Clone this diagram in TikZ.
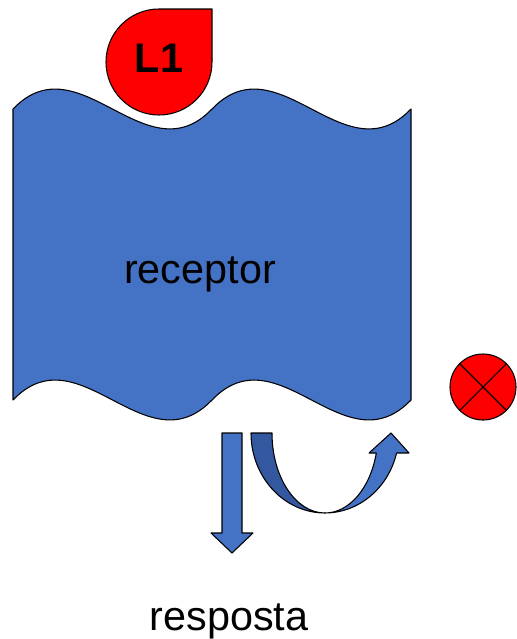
\documentclass[tikz,border=0pt]{standalone}
\usepackage{fontspec}
\setmainfont{Liberation Sans}
\usetikzlibrary{positioning}
\definecolor{azul}{RGB}{68,114,196}
\definecolor{azulescuro}{RGB}{52,88,160}
\definecolor{vermelho}{RGB}{255,0,0}

\begin{document}
\begin{tikzpicture}[x=0.75pt, y=-0.75pt,
    contorno/.style={draw=black, line width=0.8pt, line join=round},
    rotulo/.style={font=\fontsize{31}{37}\selectfont, inner sep=0pt, anchor=base}]
    \useasboundingbox (0,0) rectangle (517,639);

    % receptor
    \path[fill=azul, contorno] (13,109) .. controls (79.3,40) and (145.7,178) .. (212,109)
        .. controls (278.3,40) and (344.7,178) .. (411,109) -- (411,400)
        .. controls (344.7,469) and (278.3,331) .. (212,400)
        .. controls (145.7,469) and (79.3,331) .. (13,400) -- cycle;
    \node[rotulo] (receptor) at (200,283) {receptor};

    % ligante
    \path[fill=vermelho, contorno] (212,9) -- (212,62)
        arc[start angle=0, end angle=270, radius=53] -- cycle;
    \node[rotulo, font={\fontsize{31}{37}\selectfont\bfseries}] (L1) at (159,72) {L1};

    % bloqueio
    \node[circle, fill=vermelho, contorno, minimum size=49.5pt, inner sep=0pt] (bloq) at (483,387) {};
    \foreach \a/\b in {45/225,135/315}
        \draw[line width=0.8pt] (bloq.\a) -- (bloq.\b);

    % resposta
    \path[fill=azul, contorno] (222,433) -- (242,433) -- (242,533) -- (253,533)
        -- (232,553) -- (211,533) -- (222,533) -- cycle;
    \node[rotulo] (resposta) at (229,630) {resposta};

    % seta curva
    \path[fill=azulescuro, contorno] (251,433)
        arc[start angle=180, end angle=90, x radius=74, y radius=80]
        arc[start angle=90, end angle=180, x radius=53, y radius=80] -- cycle;
    \path[fill=azul, contorno] (325,513)
        arc[start angle=90, end angle=14.5, x radius=53, y radius=80]
        -- (369,453) -- (391,433) -- (409,453) -- (396.6,453)
        arc[start angle=14.5, end angle=90, x radius=74, y radius=80] -- cycle;
\end{tikzpicture}
\end{document}
